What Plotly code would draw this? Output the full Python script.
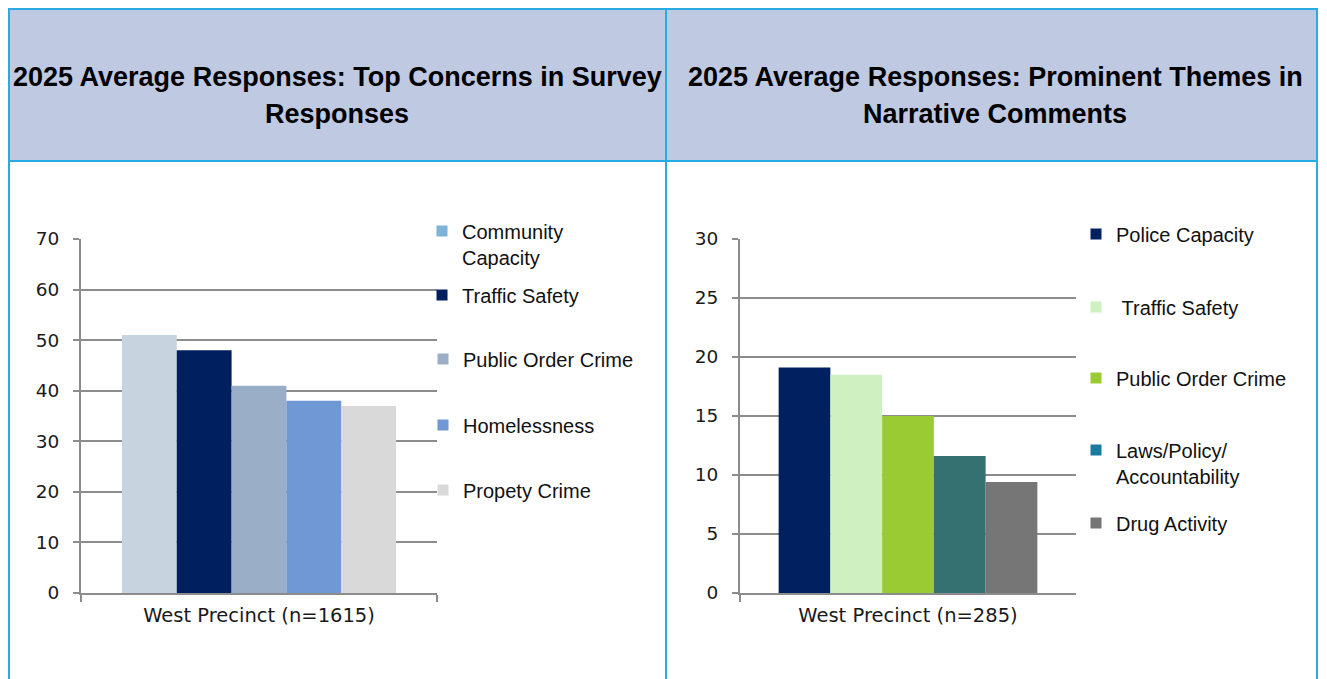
import plotly.graph_objects as go

# ---------------- data ----------------
left_title = ["2025 Average Responses: Top Concerns in Survey", "Responses"]
left_category = ["West Precinct (n=1615)"]
left_series = ["Community<br>Capacity", "Traffic Safety", "Public Order Crime", "Homelessness", "Propety Crime"]
left_values = [51, 48, 41, 38, 37]

right_title = ["2025 Average Responses: Prominent Themes in", "Narrative Comments"]
right_category = ["West Precinct (n=285)"]
right_series = ["Police Capacity", "\u00a0Traffic Safety", "Public Order Crime", "Laws/Policy/<br>Accountability", "Drug Activity"]
right_values = [19.1, 18.5, 15.0, 11.6, 9.4]

# ---------------- style ----------------
left_bar_colors = ["#C8D3E0", "#001F5F", "#9BAEC8", "#7098D4", "#D9D9D9"]
left_legend_colors = ["#7DB3D8", "#001F5F", "#9BAEC8", "#7098D4", "#D9D9D9"]
right_bar_colors = ["#00205F", "#CFF0C0", "#9ACB32", "#357171", "#767676"]
right_legend_colors = ["#00205F", "#CFF0C0", "#9ACB32", "#1C7BA0", "#767676"]

# page has an 8px body margin: offset the figure accordingly
OFF = 8
W, H = 1327 - OFF, 679 - OFF
def px(x):
    return (x - OFF) / W
def py(y):
    return 1 - (y - OFF) / H

GRID = "#8C8C8C"
BORDER = "#2AAAE2"
HEADER = "#BFC9E2"
XTICKFONT = dict(family="DejaVu Sans", size=19.5, color="#1a1a1a")
YTICKFONT = dict(family="DejaVu Sans", size=18.5, color="#1a1a1a")
LEGFONT = dict(family="Liberation Sans, Arial", size=20, color="#111111")

fig = go.Figure()

# bars
for name, val, col in zip(left_series, left_values, left_bar_colors):
    fig.add_trace(go.Bar(x=left_category, y=[val], name=name, marker=dict(color=col, line=dict(width=0)),
                         xaxis="x", yaxis="y", showlegend=False, hoverinfo="y+name"))
for name, val, col in zip(right_series, right_values, right_bar_colors):
    fig.add_trace(go.Bar(x=right_category, y=[val], name=name, marker=dict(color=col, line=dict(width=0)),
                         xaxis="x2", yaxis="y2", showlegend=False, hoverinfo="y+name"))

# legend entries (one legend per entry, positioned like the original)
left_leg_pos = [(422, 244), (422, 295), (423, 359), (423, 425), (423, 490)]
right_leg_pos = [(1076, 234), (1076, 307), (1076, 378), (1076, 463), (1076, 523)]
legends = {}
k = 1
for names, cols, pos, xa, ya in [
    (left_series, left_legend_colors, left_leg_pos, "x", "y"),
    (right_series, right_legend_colors, right_leg_pos, "x2", "y2"),
]:
    for name, col, (lx, ly) in zip(names, cols, pos):
        key = "legend" if k == 1 else f"legend{k}"
        fig.add_trace(go.Scatter(x=[None], y=[None], mode="markers", name=name,
                                 marker=dict(symbol="square", size=11, color=col),
                                 xaxis=xa, yaxis=ya, legend=key, showlegend=True, hoverinfo="skip"))
        legends[key] = dict(x=px(lx), y=py(ly), xref="container", yref="container",
                            xanchor="left", yanchor="middle",
                            font=LEGFONT, bgcolor="rgba(0,0,0,0)", borderwidth=0,
                            valign="top", itemclick=False, itemdoubleclick=False)
        k += 1

axis_common_x = dict(type="category", range=[-0.5, 0.5], showline=True, linecolor=GRID, linewidth=2,
                     ticks="outside", ticklen=7, tickwidth=2, tickcolor=GRID, tickson="boundaries",
                     showgrid=False, zeroline=False, tickfont=XTICKFONT, ticklabelstandoff=4,
                     fixedrange=True, automargin=False)
axis_common_y = dict(showline=True, linecolor=GRID, linewidth=2, ticks="outside", ticklen=6, tickwidth=2,
                     tickcolor=GRID, showgrid=True, gridcolor=GRID, gridwidth=2, zeroline=False,
                     tickfont=YTICKFONT, ticklabelstandoff=10, fixedrange=True, automargin=False)

fig.update_layout(
    template="none",
    autosize=False,
    width=W, height=H, margin=dict(l=0, r=0, t=0, b=0, pad=0, autoexpand=False),
    paper_bgcolor="white", plot_bgcolor="rgba(0,0,0,0)",
    barmode="group", bargap=0.23, bargroupgap=0,
    xaxis=dict(domain=[px(81), px(437)], anchor="y", **axis_common_x),
    yaxis=dict(domain=[py(593), py(239)], anchor="x", range=[0, 70], dtick=10, **axis_common_y),
    xaxis2=dict(domain=[px(740), px(1076)], anchor="y2", **axis_common_x),
    yaxis2=dict(domain=[py(593), py(239)], anchor="x2", range=[0, 30], dtick=5, **axis_common_y),
    **legends,
)

# table-like frame and header band
RIGHT_EDGE = 1317
shapes = [
    dict(type="rect", xref="paper", yref="paper", x0=px(8), x1=px(RIGHT_EDGE), y0=py(161), y1=py(9),
         fillcolor=HEADER, line=dict(width=0), layer="below"),
    dict(type="line", xref="paper", yref="paper", x0=px(8), x1=px(RIGHT_EDGE + 1), y0=py(9), y1=py(9), line=dict(color=BORDER, width=2)),
    dict(type="line", xref="paper", yref="paper", x0=px(8), x1=px(RIGHT_EDGE + 1), y0=py(161), y1=py(161), line=dict(color=BORDER, width=2)),
    dict(type="line", xref="paper", yref="paper", x0=px(9), x1=px(9), y0=py(9), y1=0, line=dict(color=BORDER, width=2)),
    dict(type="line", xref="paper", yref="paper", x0=px(666), x1=px(666), y0=py(9), y1=0, line=dict(color=BORDER, width=2)),
    dict(type="line", xref="paper", yref="paper", x0=px(RIGHT_EDGE), x1=px(RIGHT_EDGE), y0=py(9), y1=0, line=dict(color=BORDER, width=2)),
]
fig.update_layout(shapes=shapes)

TITLEFONT = dict(family="Liberation Sans, Arial", size=27, color="#000000")
annotations = []
for lines, cx in [(left_title, 337), (right_title, 995)]:
    for line, cy in zip(lines, [77, 114]):
        annotations.append(dict(text=f"<b>{line}</b>", x=px(cx), y=py(cy), xref="paper", yref="paper",
                                xanchor="center", yanchor="middle", showarrow=False, font=TITLEFONT))
fig.update_layout(annotations=annotations)

fig.write_html("out.html", config={"displayModeBar": False})
